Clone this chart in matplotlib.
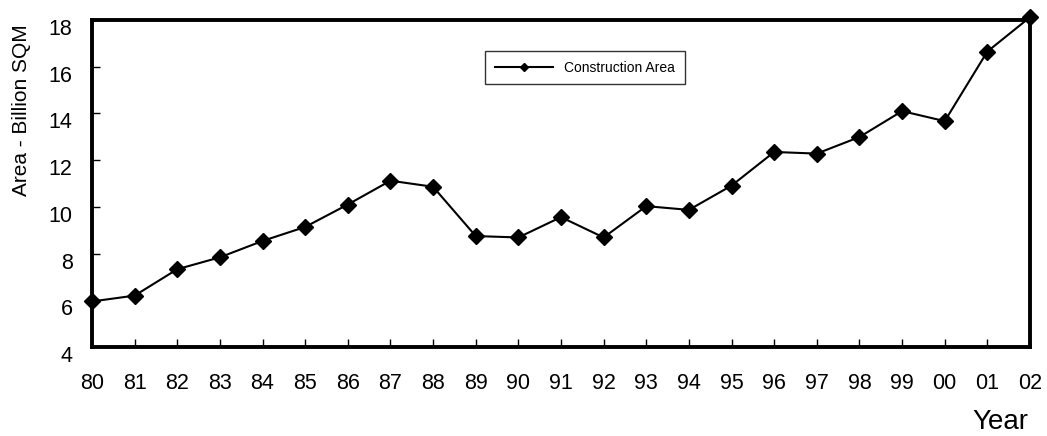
import matplotlib.pyplot as plt
import matplotlib.transforms as mtransforms

plt.rcParams['font.family'] = ['Liberation Sans', 'DejaVu Sans']

years = ['80', '81', '82', '83', '84', '85', '86', '87', '88', '89', '90', '91',
         '92', '93', '94', '95', '96', '97', '98', '99', '00', '01', '02']
area = [5.95, 6.2, 7.33, 7.84, 8.54, 9.14, 10.1, 11.12, 10.86, 8.75, 8.69, 9.56,
        8.69, 10.03, 9.87, 10.91, 12.35, 12.28, 12.99, 14.1, 13.67, 16.65, 18.12]

fig = plt.figure(figsize=(10.47, 4.36), dpi=100)
ax = fig.add_axes([92 / 1047, 1 - 347 / 436, (1030 - 92) / 1047, (347 - 20) / 436])

x = list(range(len(years)))
ax.plot(x, area, color='black', linewidth=1.5, marker='D', markersize=8,
        label='Construction Area', clip_on=False, zorder=5)

ax.set_xlim(0, len(years) - 1)
ax.set_ylim(4, 18)
ax.set_yticks(range(4, 19, 2))
ax.set_xticks(x)
ax.set_xticklabels(years)

for s in ax.spines.values():
    s.set_linewidth(2.8)

ax.tick_params(axis='x', direction='in', length=6, width=1, pad=19, labelsize=15.5)
ax.tick_params(axis='y', direction='in', length=6, width=1, pad=14, labelsize=15.5)

# y labels sit a little below their ticks in the original
shift = mtransforms.ScaledTranslation(0, -7 / 100, fig.dpi_scale_trans)
for lab in ax.get_yticklabels():
    lab.set_transform(lab.get_transform() + shift)

leg = ax.legend(loc='upper left', bbox_to_anchor=((485 - 92) / 938, (347 - 51) / 327),
                fontsize=10, frameon=True, fancybox=False, borderpad=0.7,
                handlelength=4.2, markerscale=0.55, borderaxespad=0)
leg.get_frame().set_edgecolor('black')
leg.get_frame().set_linewidth(1)

fig.text(22 / 1047, 1 - 110 / 436, 'Area - Billion SQM', rotation=90,
         ha='center', va='center', fontsize=15)
fig.text(1000 / 1047, 1 - 422 / 436, 'Year', ha='center', va='center', fontsize=20)

fig.savefig('out.png', dpi=100, facecolor='white')
